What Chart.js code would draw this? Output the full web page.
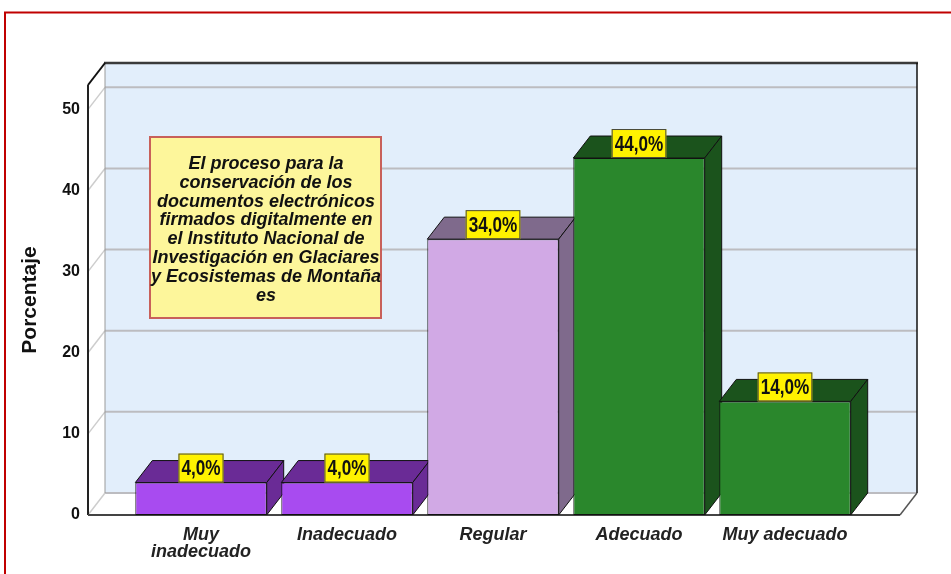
<!DOCTYPE html>
<html>
<head>
<meta charset="utf-8">
<script src="https://cdn.jsdelivr.net/npm/chart.js@4.4.1/dist/chart.umd.min.js"></script>
<style>
  html, body { margin: 0; padding: 0; background: #fff; }
</style>
</head>
<body>
<canvas id="chart" width="951" height="574"></canvas>
<script>
// data
const categories = [['Muy', 'inadecuado'], 'Inadecuado', 'Regular', 'Adecuado', 'Muy adecuado'];
const percentages = [4.0, 4.0, 34.0, 44.0, 14.0];
const yTicks = [0, 10, 20, 30, 40, 50];
const noteLines = [
  'El proceso para la',
  'conservación de los',
  'documentos electrónicos',
  'firmados digitalmente en',
  'el Instituto Nacional de',
  'Investigación en Glaciares',
  'y Ecosistemas de Montaña',
  'es'
];

const frontColors = ['#a84bf0', '#a84bf0', '#d1a9e5', '#2a872c', '#2a872c'];
const shadeColors = ['#6a2b96', '#6a2b96', '#7f6a8c', '#1b531c', '#1b531c'];
const DX = 17, DY = 22;   // depth of the fake 3D

function poly(ctx, pts, fill, stroke, lw) {
  ctx.beginPath();
  ctx.moveTo(pts[0][0], pts[0][1]);
  for (let i = 1; i < pts.length; i++) ctx.lineTo(pts[i][0], pts[i][1]);
  ctx.closePath();
  if (fill) { ctx.fillStyle = fill; ctx.fill(); }
  if (stroke) { ctx.strokeStyle = stroke; ctx.lineWidth = lw || 1; ctx.stroke(); }
}
function seg(ctx, x1, y1, x2, y2, color, lw) {
  ctx.beginPath();
  ctx.moveTo(x1, y1); ctx.lineTo(x2, y2);
  ctx.strokeStyle = color; ctx.lineWidth = lw; ctx.stroke();
}

const frame3d = {
  id: 'frame3d',
  beforeDatasetsDraw(chart) {
    const { ctx, chartArea: a, scales: { y } } = chart;
    const L = a.left - 40, R = a.right + 42, T = a.top, B = y.getPixelForValue(0);
    ctx.save();
    // back wall, left wall, floor
    ctx.fillStyle = '#e2eefb';
    ctx.fillRect(L + DX, T - DY, R - L, B - T);
    poly(ctx, [[L, T], [L + DX, T - DY], [L + DX, B - DY], [L, B]], '#fff');
    poly(ctx, [[L, B], [L + DX, B - DY], [R + DX, B - DY], [R, B]], '#fff');
    // grid lines
    yTicks.forEach(v => {
      const py = y.getPixelForValue(v);
      seg(ctx, L + DX, py - DY, R + DX, py - DY, '#bcbcc0', 2);
      seg(ctx, L, py, L + DX, py - DY, '#cdcdcd', 1.5);
    });
    seg(ctx, L + DX, T - DY, L + DX, B - DY, '#9a9a9a', 1);
    // outlines
    seg(ctx, L + DX - 1, T - DY, R + DX + 1, T - DY, '#3a3a3a', 2.5);
    seg(ctx, R + DX, T - DY, R + DX, B - DY, '#111', 1.5);
    seg(ctx, L, T, L + DX, T - DY, '#111', 2);
    seg(ctx, L, T, L, B, '#222', 2);
    seg(ctx, R, B, R + DX, B - DY, '#555', 1.5);
    seg(ctx, L, B, R, B, '#444', 2);

    // note box
    ctx.fillStyle = '#fdf69b';
    ctx.fillRect(150, 137, 231, 181);
    ctx.strokeStyle = '#c8605a'; ctx.lineWidth = 2;
    ctx.strokeRect(150, 137, 231, 181);
    ctx.fillStyle = '#111';
    ctx.font = 'italic bold 18px "Liberation Sans", Arial, sans-serif';
    ctx.textAlign = 'center'; ctx.textBaseline = 'middle';
    noteLines.forEach((t, i) => ctx.fillText(t, 266, 164 + i * 18.8));

    // top and side faces of each bar
    chart.getDatasetMeta(0).data.forEach((bar, i) => {
      const xl = bar.x - bar.width / 2, xr = bar.x + bar.width / 2, yt = bar.y, yb = bar.base;
      poly(ctx, [[xl, yt], [xl + DX, yt - DY], [xr + DX, yt - DY], [xr, yt]], shadeColors[i], '#111', 1);
      poly(ctx, [[xr, yt], [xr + DX, yt - DY], [xr + DX, yb - DY], [xr, yb]], shadeColors[i], '#111', 1);
    });
    ctx.restore();
  },
  afterDatasetsDraw(chart) {
    const { ctx } = chart;
    const squeeze = 0.78;   // labels use a narrow face
    ctx.save();
    ctx.font = 'bold 22px "Liberation Sans", Arial, sans-serif';
    ctx.textAlign = 'center'; ctx.textBaseline = 'middle';
    chart.getDatasetMeta(0).data.forEach((bar, i) => {
      const txt = percentages[i].toFixed(1).replace('.', ',') + '%';
      const w = ctx.measureText(txt).width * squeeze + 6, h = 29;
      const bx = bar.x - w / 2, by = bar.y - h;
      ctx.fillStyle = '#fff200';
      ctx.fillRect(bx, by, w, h);
      ctx.strokeStyle = '#4a4a3a'; ctx.lineWidth = 1;
      ctx.strokeRect(bx + 0.5, by + 0.5, w - 1, h - 1);
      ctx.save();
      ctx.translate(bar.x, by + h / 2 + 1);
      ctx.scale(squeeze, 1);
      ctx.fillStyle = '#111';
      ctx.fillText(txt, 0, 0);
      ctx.restore();
    });
    ctx.restore();
  },
  afterDraw(chart) {
    const { ctx } = chart;
    ctx.save();
    ctx.strokeStyle = '#c00000'; ctx.lineWidth = 2;
    ctx.beginPath();
    ctx.moveTo(5, 574); ctx.lineTo(5, 12.5); ctx.lineTo(951, 12.5);
    ctx.stroke();
    ctx.restore();
  }
};

new Chart(document.getElementById('chart'), {
  type: 'bar',
  data: {
    labels: categories,
    datasets: [{
      label: 'Porcentaje',
      data: percentages,
      backgroundColor: frontColors,
      borderColor: '#111',
      borderWidth: 1,
      borderSkipped: false,
      categoryPercentage: 1,
      barPercentage: 0.9
    }]
  },
  options: {
    responsive: false,
    animation: false,
    layout: { padding: { left: 10, right: 93, top: 85, bottom: 0 } },
    plugins: { legend: { display: false }, tooltip: { enabled: false } },
    scales: {
      x: {
        grid: { display: false, drawTicks: false },
        border: { display: false },
        afterFit: s => { s.height = 59; },
        ticks: {
          padding: 11,
          color: '#222',
          maxRotation: 0,
          font: { family: '"Liberation Sans", Arial, sans-serif', size: 18, weight: 'bold', style: 'italic', lineHeight: 0.95 }
        }
      },
      y: {
        min: 0, max: 53,
        grid: { display: false, drawTicks: false },
        border: { display: false },
        afterFit: s => { s.width = 118; },
        ticks: {
          stepSize: 10,
          includeBounds: false,
          padding: 48,
          color: '#111',
          font: { family: '"Liberation Sans", Arial, sans-serif', size: 16, weight: 'bold' }
        },
        title: {
          display: true,
          text: 'Porcentaje',
          color: '#111',
          padding: { top: 8, bottom: 0 },
          font: { family: '"Liberation Sans", Arial, sans-serif', size: 21, weight: 'bold' }
        }
      }
    }
  },
  plugins: [frame3d]
});
</script>
</body>
</html>
